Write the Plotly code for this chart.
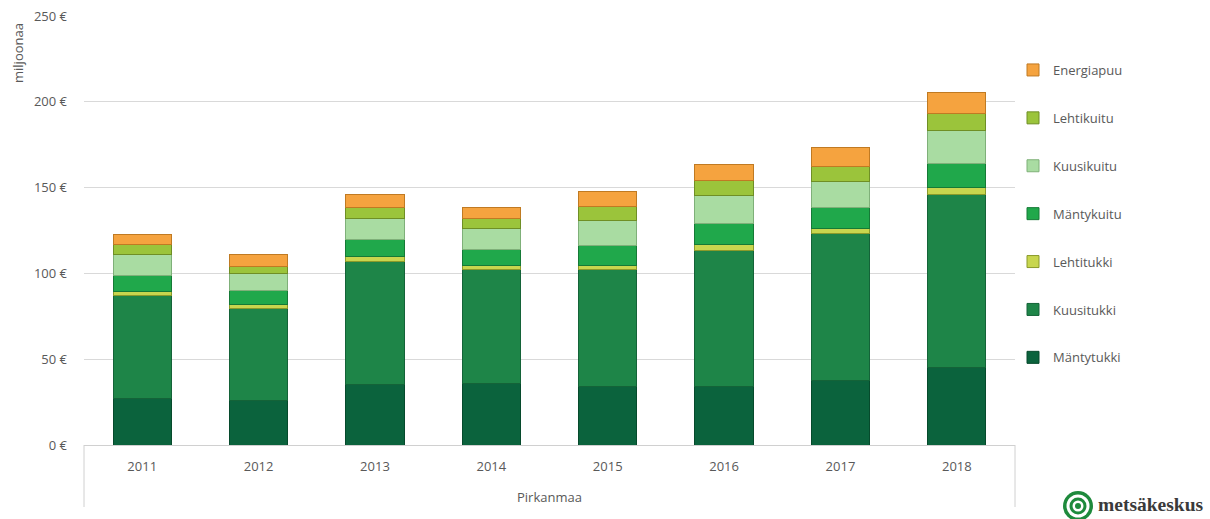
import plotly.graph_objects as go

years = ["2011", "2012", "2013", "2014", "2015", "2016", "2017", "2018"]
region = "Pirkanmaa"

series_names = ["Mäntytukki", "Kuusitukki", "Lehtitukki", "Mäntykuitu",
                "Kuusikuitu", "Lehtikuitu", "Energiapuu"]

mantytukki = [27.0, 26.2, 35.5, 36.0, 34.3, 34.0, 37.4, 45.2]
kuusitukki = [60.2, 53.3, 71.5, 66.1, 67.8, 79.5, 85.7, 100.5]
lehtitukki = [2.5, 2.3, 2.9, 2.5, 2.5, 3.6, 3.3, 4.1]
mantykuitu = [9.1, 8.3, 9.7, 9.3, 11.7, 11.7, 12.2, 14.3]
kuusikuitu = [12.1, 10.1, 12.6, 12.1, 14.5, 16.4, 15.1, 19.0]
lehtikuitu = [5.8, 3.8, 6.4, 5.8, 8.2, 9.0, 8.5, 10.1]
energiapuu = [6.0, 7.0, 7.1, 6.8, 8.5, 9.0, 11.3, 12.0]

values = [mantytukki, kuusitukki, lehtitukki, mantykuitu,
          kuusikuitu, lehtikuitu, energiapuu]

fills = ["#0b633d", "#1e8548", "#c8d64e", "#20a84b", "#a9dca2", "#9bc43b", "#f5a33f"]
edges = ["#064a2c", "#146338", "#8a9a2a", "#157a36", "#7fb079", "#6f8f25", "#c07a22"]

y_ticks = [0, 50, 100, 150, 200, 250]
y_tick_text = ["0 €", "50 €", "100 €", "150 €", "200 €", "250 €"]

fig = go.Figure()
n = len(series_names)
for i, (name, vals, fc, ec) in enumerate(zip(series_names, values, fills, edges)):
    fig.add_trace(go.Bar(
        x=years, y=vals, name=name, legendgroup=name, legendrank=n - i,
        marker=dict(color=fc, line=dict(color=ec, width=1)),
    ))

W, H = 1210, 519
L, R, T, B = 84, 195, 16, 74
pw = W - L - R
ph = H - T - B

def px_x(px):
    return (px - L) / pw

def px_y(py):
    return (H - B - py) / ph

font_family = "Open Sans, Noto Sans, sans-serif"
txt = "#595959"

fig.update_layout(
    width=W, height=H,
    margin=dict(l=L, r=R, t=T, b=B, autoexpand=False),
    barmode="stack", bargap=0.5,
    plot_bgcolor="white", paper_bgcolor="white",
    font=dict(family=font_family, size=13, color=txt),
    legend=dict(
        x=px_x(1013), xanchor="left", y=px_y(55), yanchor="top",
        traceorder="grouped", tracegroupgap=28,
        font=dict(size=13, color=txt), itemwidth=30,
        bgcolor="rgba(0,0,0,0)",
    ),
    xaxis=dict(
        type="category", showgrid=False, showline=True, linecolor="#d0d0d0",
        linewidth=1, ticks="", ticklabelstandoff=9, automargin=False,
        tickfont=dict(size=13, color=txt),
    ),
    yaxis=dict(
        range=[0, 250], tickvals=y_ticks, ticktext=y_tick_text,
        showgrid=True, gridcolor="#d9d9d9", gridwidth=1,
        zeroline=False, showline=False, ticks="", ticklabelstandoff=16,
        automargin=False, tickfont=dict(size=13, color=txt),
    ),
)

# category box lines below the axis
for xp in (0, 1):
    fig.add_shape(type="line", xref="paper", yref="paper",
                  x0=xp, x1=xp, y0=0, y1=px_y(507),
                  line=dict(color="#d0d0d0", width=1))

fig.add_annotation(text=region, xref="paper", yref="paper",
                   x=0.5, y=px_y(497), xanchor="center", yanchor="middle",
                   showarrow=False, font=dict(size=13, color=txt))

fig.add_annotation(text="miljoonaa", xref="paper", yref="paper",
                   x=px_x(18), y=px_y(53), xanchor="center", yanchor="middle",
                   textangle=-90, showarrow=False,
                   font=dict(size=13, color=txt))

# logo
cx, cy = 1078, 506
for r, col in [(15, "#1e8a3c"), (11.5, "white"), (8.5, "#1e8a3c"), (5.5, "white"), (3, "#1e8a3c")]:
    fig.add_shape(type="circle", xref="paper", yref="paper",
                  x0=px_x(cx - r), x1=px_x(cx + r),
                  y0=px_y(cy + r), y1=px_y(cy - r),
                  fillcolor=col, line=dict(width=0), layer="above")

fig.add_annotation(text="<b>metsäkeskus</b>", xref="paper", yref="paper",
                   x=px_x(1096), y=px_y(505), xanchor="left", yanchor="middle",
                   showarrow=False,
                   font=dict(family="Liberation Serif, DejaVu Serif, serif", size=19.5, color="#3a3a3a"))

fig.write_html("out.html", config={"displayModeBar": False},
               post_script="document.body.style.margin='0';document.body.style.overflow='hidden';")
